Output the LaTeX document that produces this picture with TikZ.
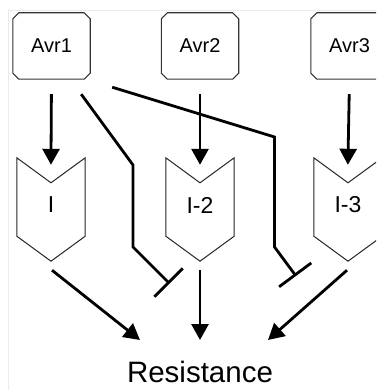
\documentclass[tikz,border=0pt]{standalone}
\usepackage{fontspec}
\setmainfont{Liberation Sans}
\usetikzlibrary{arrows.meta,calc}
\begin{document}
\begin{tikzpicture}[x=1pt,y=-1pt,
  avr/.style={rectangle, minimum width=77pt, minimum height=66pt, inner sep=0pt,
    font=\fontsize{20}{23}\selectfont},
  avrline/.style={draw=black!80, line width=1.1pt},
  chev/.style={minimum width=68pt, minimum height=103pt, inner sep=0pt},
  chevline/.style={draw=black!85, line width=1pt, line join=miter},
  chevlabel/.style={font=\fontsize{23}{26}\selectfont, inner sep=0pt},
  arr/.style={line width=2.8pt, -{Triangle[length=16pt,width=17pt]}},
  inh/.style={line width=2.8pt, -{Bar[width=40pt]}}
]
\useasboundingbox (0,0) rectangle (376,390);
\clip (0,0) rectangle (376,390);
\fill[white] (0,0) rectangle (376,390);
\draw[black!8, line width=0.8pt] (8,390) -- (8,10.5) -- (376,10.5);

\node[avr] (A1) at (51.5,46) {Avr1};
\node[avr] (A2) at (200,46) {Avr2};
\node[avr] (A3) at (349.5,46) {Avr3};
\foreach \n in {A1,A2,A3} {
  \draw[avrline] ($(\n.north west)+(6,0)$) -- ($(\n.north east)+(-6,0)$) -- ($(\n.north east)+(0,6)$)
    -- ($(\n.south east)+(0,-6)$) -- ($(\n.south east)+(-6,0)$) -- ($(\n.south west)+(6,0)$)
    -- ($(\n.south west)+(0,-6)$) -- ($(\n.north west)+(0,6)$) -- cycle;
}

\foreach \n/\x in {I1/51,I2/200,I3/348} {
  \node[chev] (\n) at (\x,209.5) {};
  \draw[chevline] (\n.north west) -- ($(\n.north)+(0,25)$) -- (\n.north east)
    -- ($(\n.south east)+(0,-25)$) -- (\n.south) -- ($(\n.south west)+(0,-25)$) -- cycle;
}
\node[chevlabel] (L1) at (51,205) {I};
\node[chevlabel] (L2) at (200,205) {I-2};
\node[chevlabel] (L3) at (348,205) {I-3};

\node[font=\fontsize{29.5}{33}\selectfont, inner sep=0pt] (R) at (200,372) {Resistance};

% activation arrows Avr -> I
\draw[arr, shorten <=15pt, shorten >=-7pt] (A1.south) -- (I1.north);
\draw[arr, shorten <=15pt, shorten >=-7pt] (A2.south) -- (I2.north);
\draw[arr, shorten <=15pt, shorten >=-7pt] (A3.south) -- (I3.north);

% inhibition lines from Avr1
\coordinate (a1) at ($(A1.south east)+(-9,15)$);
\coordinate (b1) at (133,165);
\coordinate (c1) at (133,247);
\coordinate (t1) at (169.5,283.5);
\draw[inh] (a1) -- (b1) -- (c1) -- (t1);

\coordinate (a2) at ($(A1.south east)+(22,8)$);
\coordinate (b2) at (274.5,137);
\coordinate (c2) at (274.5,247);
\coordinate (t2) at (296,276);
\draw[inh] (a2) -- (b2) -- (c2) -- (t2);

% arrows to Resistance
\coordinate (rL) at (140,340);
\coordinate (rM) at (200,340);
\coordinate (rR) at (268,340);
\draw[arr] ($(I1.south)+(1,9)$) -- (rL);
\draw[arr] ($(I2.south)+(0,9)$) -- (rM);
\draw[arr] ($(I3.south)+(-1,9)$) -- (rR);
\end{tikzpicture}
\end{document}
